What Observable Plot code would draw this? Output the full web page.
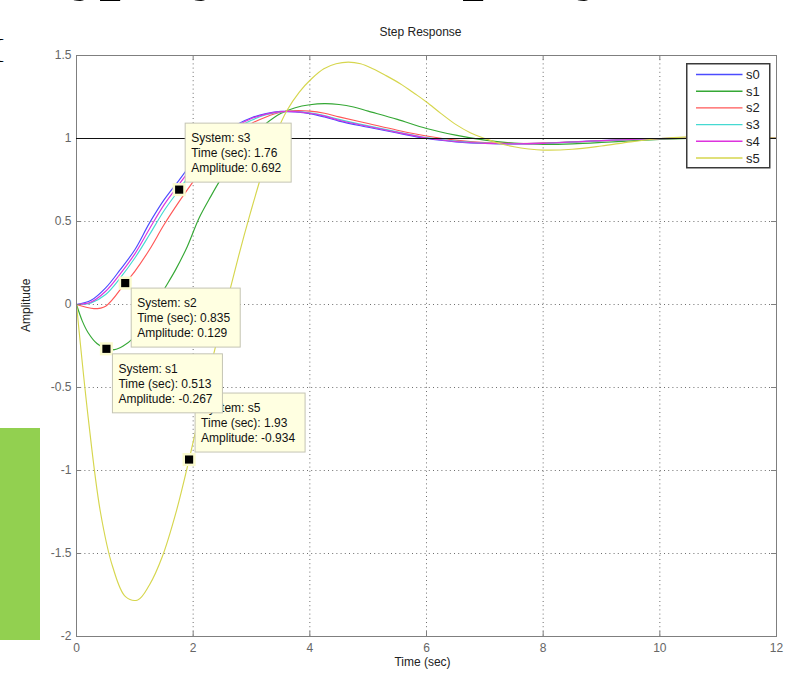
<!DOCTYPE html>
<html>
<head>
<meta charset="utf-8">
<script src="https://cdn.jsdelivr.net/npm/d3@7"></script>
<script src="https://cdn.jsdelivr.net/npm/@observablehq/plot@0.6"></script>
<style>
  html, body { margin: 0; padding: 0; background: #fff; }
  body { width: 785px; height: 674px; overflow: hidden; position: relative;
         font-family: "Liberation Sans", Arial, sans-serif; }
  #chart { position: absolute; left: 0; top: 0; }
  #slide { position: absolute; left: 0; top: 0; display: block; }
  #bar { position: absolute; left: 0; top: 428px; width: 40px; height: 212px; background: #92d050; }
  #legend { position: absolute; left: 686px; top: 63px; }
</style>
</head>
<body>
<div id="bar"></div>
<div id="chart"></div>
<div id="legend"></div>
<svg id="slide" width="785" height="70"></svg>
<script>
// ---- step responses (time in seconds, amplitude) ----
const seriesNames  = ["s0", "s1", "s2", "s3", "s4", "s5"];
const seriesColors = ["#4b4bff", "#35a835", "#ff5757", "#45d9d2", "#dd33dd", "#d6d64e"];

const t_s0 = [0, 0.25, 0.5, 0.75, 1.0, 1.25, 1.5, 1.75, 2.0, 2.25, 2.5, 2.75, 3.0, 3.25, 3.5, 3.75, 4.0, 4.25, 4.5, 5.0, 5.5, 6.0, 6.5, 7.0, 7.5, 8.0, 8.5, 9.0, 9.5, 10.0, 11.0, 12.0];
const y_s0 = [0, 0.025, 0.10, 0.21, 0.33, 0.49, 0.63, 0.745, 0.86, 0.955, 1.03, 1.085, 1.125, 1.15, 1.163, 1.16, 1.15, 1.13, 1.105, 1.068, 1.033, 1.0, 0.98, 0.97, 0.968, 0.972, 0.98, 0.988, 0.995, 1.0, 1.003, 1.002];

const t_s1 = [0, 0.1, 0.2, 0.35, 0.513, 0.65, 0.8, 0.95, 1.1, 1.3, 1.5, 1.7, 1.9, 2.1, 2.3, 2.5, 2.75, 3.0, 3.25, 3.5, 3.75, 4.0, 4.25, 4.5, 4.75, 5.0, 5.5, 6.0, 6.5, 7.0, 7.5, 8.0, 8.5, 9.0, 9.5, 10.0, 11.0, 12.0];
const y_s1 = [0, -0.10, -0.17, -0.235, -0.267, -0.272, -0.25, -0.21, -0.14, -0.03, 0.09, 0.21, 0.35, 0.52, 0.65, 0.77, 0.90, 1.01, 1.09, 1.15, 1.185, 1.203, 1.21, 1.205, 1.19, 1.165, 1.115, 1.06, 1.02, 0.99, 0.972, 0.965, 0.968, 0.976, 0.986, 0.995, 1.003, 1.002];

const t_s2 = [0, 0.15, 0.3, 0.5, 0.835, 1.0, 1.25, 1.5, 1.75, 2.0, 2.25, 2.5, 2.75, 3.0, 3.25, 3.5, 3.75, 4.0, 4.25, 4.5, 5.0, 5.5, 6.0, 6.5, 7.0, 7.5, 8.0, 8.5, 9.0, 9.5, 10.0, 11.0, 12.0];
const y_s2 = [0, -0.015, -0.025, -0.01, 0.129, 0.20, 0.33, 0.48, 0.615, 0.74, 0.86, 0.95, 1.03, 1.09, 1.13, 1.158, 1.168, 1.165, 1.152, 1.13, 1.09, 1.05, 1.015, 0.99, 0.975, 0.97, 0.972, 0.978, 0.986, 0.993, 0.999, 1.003, 1.002];

const t_s3 = [0, 0.25, 0.5, 0.75, 1.0, 1.25, 1.5, 1.76, 2.0, 2.25, 2.5, 2.75, 3.0, 3.25, 3.5, 3.75, 4.0, 4.25, 4.5, 5.0, 5.5, 6.0, 6.5, 7.0, 7.5, 8.0, 8.5, 9.0, 9.5, 10.0, 11.0, 12.0];
const y_s3 = [0, 0.01, 0.06, 0.16, 0.28, 0.42, 0.565, 0.692, 0.81, 0.92, 1.0, 1.065, 1.11, 1.143, 1.16, 1.163, 1.155, 1.138, 1.115, 1.076, 1.04, 1.006, 0.984, 0.972, 0.968, 0.97, 0.978, 0.986, 0.993, 0.999, 1.003, 1.002];

const t_s4 = [0, 0.25, 0.5, 0.75, 1.0, 1.25, 1.5, 1.75, 2.0, 2.25, 2.5, 2.75, 3.0, 3.25, 3.5, 3.75, 4.0, 4.25, 4.5, 5.0, 5.5, 6.0, 6.5, 7.0, 7.5, 8.0, 8.5, 9.0, 9.5, 10.0, 11.0, 12.0];
const y_s4 = [0, 0.015, 0.08, 0.185, 0.305, 0.455, 0.60, 0.72, 0.835, 0.94, 1.015, 1.075, 1.12, 1.147, 1.162, 1.162, 1.152, 1.135, 1.11, 1.072, 1.037, 1.003, 0.982, 0.971, 0.968, 0.971, 0.979, 0.987, 0.994, 0.999, 1.003, 1.002];

const t_s5 = [0, 0.2, 0.41, 0.62, 0.84, 1.05, 1.25, 1.47, 1.7, 1.93, 2.14, 2.35, 2.56, 2.77, 2.98, 3.19, 3.4, 3.61, 3.82, 4.03, 4.24, 4.45, 4.66, 4.87, 5.08, 5.3, 5.55, 5.8, 6.0, 6.25, 6.5, 6.75, 7.0, 7.25, 7.5, 7.75, 8.0, 8.5, 9.0, 9.5, 10.0, 10.5, 11.0, 11.5, 12.0];
const y_s5 = [0, -0.68, -1.25, -1.58, -1.76, -1.78, -1.69, -1.52, -1.26, -0.934, -0.61, -0.30, -0.01, 0.28, 0.55, 0.80, 1.01, 1.17, 1.28, 1.36, 1.42, 1.45, 1.46, 1.45, 1.42, 1.38, 1.33, 1.27, 1.22, 1.15, 1.085, 1.035, 1.0, 0.97, 0.95, 0.937, 0.93, 0.935, 0.955, 0.98, 1.0, 1.01, 1.012, 1.008, 1.003];

// data tips
const tipSeries = ["s3", "s2", "s5", "s1"];
const tipTimes  = [1.76, 0.835, 1.93, 0.513];
const tipAmps   = [0.692, 0.129, -0.934, -0.267];

// axes
const xTicks = [0, 2, 4, 6, 8, 10, 12];
const xTickLabels = ["0", "2", "4", "6", "8", "10", "12"];
const yTicks = [-2, -1.5, -1, -0.5, 0, 0.5, 1, 1.5];
const yTickLabels = ["-2", "-1.5", "-1", "-0.5", "0", "0.5", "1", "1.5"];
const steadyState = [1];

const timeArrays = [t_s0, t_s1, t_s2, t_s3, t_s4, t_s5];
const ampArrays  = [y_s0, y_s1, y_s2, y_s3, y_s4, y_s5];
const rows = seriesNames.flatMap((name, i) =>
  timeArrays[i].map((t, j) => ({series: name, t, amp: ampArrays[i][j]})));
const tips = tipSeries.map((s, i) => ({series: s, t: tipTimes[i], amp: tipAmps[i]}));

const W = 785, H = 674;
const margin = {left: 76, right: 9, top: 55, bottom: 38};
const frameW = W - margin.left - margin.right;
const frameH = H - margin.top - margin.bottom;
const tickLen = 5;
const gridStyle = {stroke: "#555", strokeOpacity: 0.85, strokeDasharray: "1,3.2", strokeWidth: 1};
const axisGray = "#7f7f7f";

const chart = Plot.plot({
  width: W, height: H,
  marginLeft: margin.left, marginRight: margin.right,
  marginTop: margin.top, marginBottom: margin.bottom,
  style: {fontFamily: "'Liberation Sans', Arial, sans-serif", fontSize: "12px", background: "transparent", overflow: "visible"},
  x: {domain: [0, 12]},
  y: {domain: [-2, 1.5]},
  color: {domain: seriesNames, range: seriesColors},
  marks: [
    Plot.gridX(xTicks.slice(1, -1), gridStyle),
    Plot.gridY(yTicks.slice(1, -1), gridStyle),
    Plot.line(rows, {x: "t", y: "amp", z: "series", stroke: "series", strokeWidth: 1.15, curve: "catmull-rom"}),
    Plot.frame({stroke: axisGray, strokeWidth: 1}),
    // inward ticks on all four sides
    Plot.tickX(xTicks, {x: d => d, insetTop: frameH - tickLen, stroke: axisGray}),
    Plot.tickX(xTicks, {x: d => d, insetBottom: frameH - tickLen, stroke: axisGray}),
    Plot.tickY(yTicks, {y: d => d, insetRight: frameW - tickLen, stroke: axisGray}),
    Plot.tickY(yTicks, {y: d => d, insetLeft: frameW - tickLen, stroke: axisGray}),
    Plot.axisX({ticks: xTicks, tickSize: 0, tickPadding: 7, label: null, fill: "#666",
                tickFormat: d => xTickLabels[xTicks.indexOf(d)], fontSize: 12}),
    Plot.axisY({ticks: yTicks, tickSize: 0, tickPadding: 5, label: null, fill: "#666",
                tickFormat: d => yTickLabels[yTicks.indexOf(d)], fontSize: 12}),
    Plot.text(["Step Response"], {frameAnchor: "top", dx: -6, dy: -28, fill: "#222", fontSize: 12}),
    Plot.text(["Time (sec)"], {frameAnchor: "bottom", dx: -4, dy: 29, fill: "#222", fontSize: 12}),
    Plot.text(["Amplitude"], {frameAnchor: "left", dx: -50, dy: -14, rotate: -90, fill: "#222", fontSize: 12}),
    Plot.ruleY(steadyState, {stroke: "#111", strokeWidth: 1.2, ariaLabel: "steady-state"}),
    Plot.dot(tips, {x: "t", y: "amp", symbol: "square", r: 7.4, fill: "#fbfbcf", stroke: "none", ariaLabel: "tip-halo"}),
    Plot.dot(tips, {x: "t", y: "amp", symbol: "square", r: 4.6, fill: "#000", stroke: "none", ariaLabel: "tip-marker"})
  ]
});
document.getElementById("chart").appendChild(chart);

// ---- data tip boxes, anchored to each marker through the plot scales ----
const sx = chart.scale("x"), sy = chart.scale("y");
const svg = d3.select(chart);
const tipLayer = svg.append("g")
  .attr("font-family", "'Liberation Sans', Arial, sans-serif")
  .attr("font-size", 12)
  .attr("text-anchor", "start")
  .attr("fill", "#111");
const placement = {s3: "above", s5: "above", s2: "below", s1: "below"};
const boxH = 59;
tips.forEach(tp => {
  const px = sx.apply(tp.t), py = sy.apply(tp.amp);
  const x0 = px + 6.5;
  const y0 = placement[tp.series] === "above" ? py - 66 : py + 5.5;
  const g = tipLayer.append("g").attr("transform", `translate(${x0},${y0})`);
  const rect = g.append("rect").attr("height", boxH)
    .attr("fill", "#ffffe1").attr("stroke", "#c4c4b4").attr("stroke-width", 1);
  const lines = [`System: ${tp.series}`, `Time (sec): ${tp.t}`, `Amplitude: ${tp.amp}`];
  let maxLen = 0;
  lines.forEach((s, i) => {
    const txt = g.append("text").attr("x", 6).attr("y", 19 + i * 15).text(s);
    maxLen = Math.max(maxLen, txt.node().getComputedTextLength());
  });
  rect.attr("width", Math.round(maxLen + 16));
});
// steady-state line and markers sit above the tip boxes
svg.selectAll('[aria-label="steady-state"]').raise();
svg.selectAll('[aria-label="tip-halo"]').raise();
svg.selectAll('[aria-label="tip-marker"]').raise();

// ---- legend ----
const legendW = 83, legendH = 104;
const leg = d3.select("#legend").append("svg")
  .attr("width", legendW + 2).attr("height", legendH + 2)
  .style("overflow", "visible");
leg.append("rect").attr("x", 0.75).attr("y", 0.75).attr("width", legendW).attr("height", legendH)
  .attr("fill", "#fff").attr("stroke", "#3a3a3a").attr("stroke-width", 1.5);
seriesNames.forEach((name, i) => {
  const cy = 11.5 + i * 16.7;
  leg.append("line").attr("x1", 10).attr("x2", 56.5).attr("y1", cy).attr("y2", cy)
    .attr("stroke", seriesColors[i]).attr("stroke-width", 1.4);
  leg.append("text").attr("x", 60).attr("y", cy + 4.5)
    .attr("font-family", "'Liberation Sans', Arial, sans-serif").attr("font-size", 13)
    .attr("fill", "#222").text(name);
});

// ---- slide heading above the figure: only its descenders are in view ----
const slideGlyphs = ["y", "p", "y", "p", "y"];
const slideGlyphX = [72, 99, 193, 462, 576];
const slideSvg = d3.select("#slide");
slideSvg.selectAll("text.glyph").data(slideGlyphs).join("text")
  .attr("class", "glyph")
  .attr("x", (d, i) => slideGlyphX[i])
  .attr("y", -16)
  .attr("font-family", "'Liberation Serif', serif")
  .attr("font-weight", "bold")
  .attr("font-size", 78)
  .attr("fill", "#000")
  .text(d => d);
slideSvg.append("text")
  .attr("x", -5).attr("y", 58)
  .attr("font-family", "'Liberation Serif', serif")
  .attr("font-size", 28)
  .attr("fill", "#000")
  .text("[");
</script>
</body>
</html>
